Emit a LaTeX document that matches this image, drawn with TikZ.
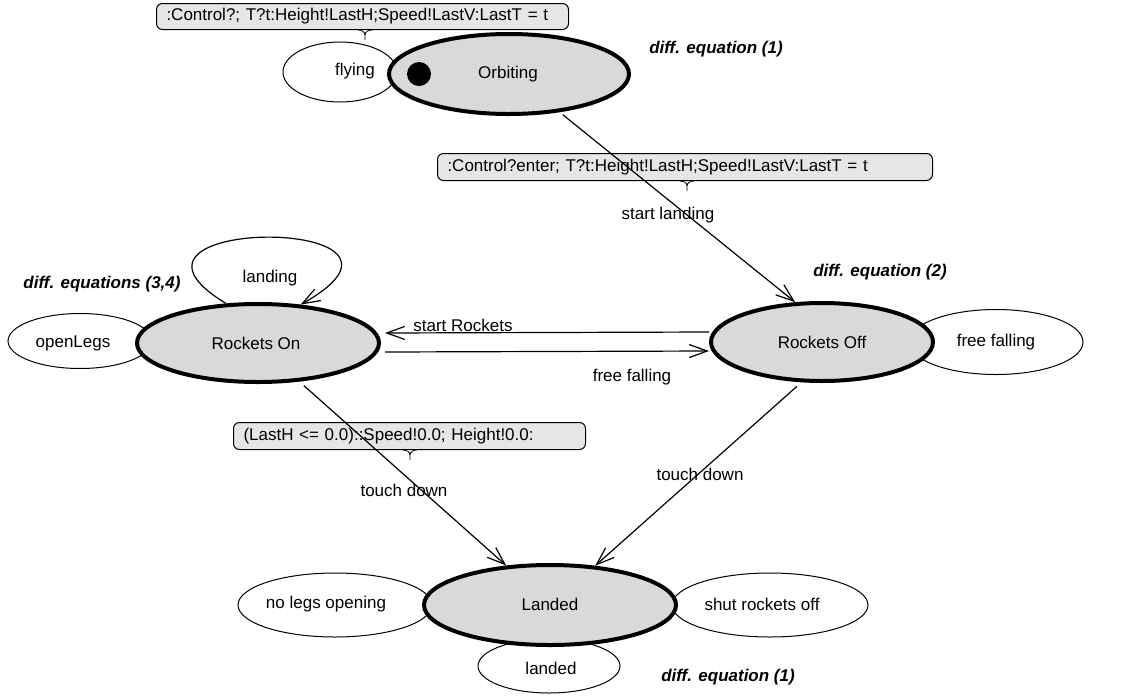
\documentclass[tikz,border=0pt]{standalone}
\usepackage{fontspec}
\setmainfont{Liberation Sans}
\usetikzlibrary{arrows.meta,shapes.geometric}
\definecolor{stategray}{RGB}{217,217,217}
\definecolor{notegray}{RGB}{230,230,230}
\newcommand\notetail[2]{%
  \draw[line width=0.8pt] ([xshift=#2pt-7pt]#1.south west) .. controls +(4,0) and +(0,-3) .. ++(7,5) -- ++(0,5);
  \draw[line width=0.8pt] ([xshift=#2pt+7pt]#1.south west) .. controls +(-4,0) and +(0,-3) .. ++(-7,5);}
\begin{document}
\begin{tikzpicture}[x=1pt,y=-1pt,
  font=\fontsize{17}{20}\selectfont,
  state/.style={ellipse, draw, line width=4pt, fill=stategray, inner sep=0pt},
  activity/.style={ellipse, draw, line width=1pt, fill=white, inner sep=0pt},
  note/.style={draw, line width=1pt, fill=notegray, rounded corners=6pt, anchor=north west,
    inner xsep=10pt, inner ysep=0pt, align=left},
  trans/.style={draw, line width=1.2pt, -{Straight Barb[length=18pt,width=13pt,line width=1.2pt]}},
  eqlabel/.style={font=\fontsize{17}{20}\selectfont\bfseries\itshape, inner sep=0pt},
  lbl/.style={inner sep=0pt}
]
\useasboundingbox (0,0) rectangle (1141,697);

% side (activity) ellipses
\node[activity, minimum width=114pt, minimum height=60pt] (flying) at (340,72) {};
\node[activity, minimum width=144pt, minimum height=55pt] (openlegs) at (80,341) {};
\node[activity, minimum width=174pt, minimum height=65pt] (freefall) at (996,342) {};
\node[activity, minimum width=194pt, minimum height=64pt] (nolegs) at (335,605) {};
\node[activity, minimum width=196pt, minimum height=64pt] (shut) at (770,605) {};
\node[activity, minimum width=142pt, minimum height=54pt] (landedact) at (549,666) {};

% states
\node[state, minimum width=240pt, minimum height=80pt] (orb) at (509,74) {};
\node[state, minimum width=242pt, minimum height=78pt] (ron) at (258,343) {};
\node[state, minimum width=222pt, minimum height=78pt] (roff) at (822,342) {};
\node[state, minimum width=252pt, minimum height=80pt] (land) at (550,605) {};

% texts
\node[lbl] (tflying) at (355,71) {flying};
\node[lbl] (torb) at (508,74) {Orbiting};
\node[circle, fill=black, minimum size=24pt, inner sep=0pt] (dot) at (419,74) {};
\node[lbl] (topen) at (73,343) {openLegs};
\node[lbl] (tron) at (256,343) {Rockets On};
\node[lbl] (troff) at (822,342) {Rockets Off};
\node[lbl] (tfree) at (996,342) {free falling};
\node[lbl] (tnolegs) at (326,604) {no legs opening};
\node[lbl] (tland) at (550,604) {Landed};
\node[lbl] (tshut) at (762,604) {shut rockets off};
\node[lbl] (tlanded) at (551,668) {landed};

% equations labels
\node[eqlabel] (eq1) at (716,49) {diff. equation (1)};
\node[eqlabel] (eq2) at (880,272) {diff. equation (2)};
\node[eqlabel] (eq34) at (102,284) {diff. equations (3,4)};
\node[eqlabel] (eq1b) at (728,677) {diff. equation (1)};

% notes
\node[note, text width=392pt, minimum height=26pt] (c1) at (156,3)
  {:Control?; T?t:Height!LastH;Speed!LastV:LastT = t};
\node[note, text width=475pt, minimum height=27pt] (c2) at (437,153)
  {:Control?enter; T?t:Height!LastH;Speed!LastV:LastT = t};
\node[note, text width=332pt, minimum height=27pt] (c3) at (233,422)
  {(LastH <= 0.0)::Speed!0.0; Height!0.0:};
\notetail{c1}{209}
\notetail{c2}{250}
\notetail{c3}{177}

% transitions
\draw[trans, shorten <=4pt] (orb.-37) -- (roff.124);
\draw[trans] (ron.129) .. controls (80,215) and (460,215) .. (ron.42);
\draw[trans] ([yshift=10pt]roff.west) -- ([yshift=10pt,xshift=4pt]ron.east);
\draw[trans] ([yshift=-9pt,xshift=4pt]ron.east) -- ([yshift=-9pt]roff.west);
\draw[trans, shorten <=6pt] (ron.-43) -- (land.138);
\draw[trans, shorten <=6pt] (roff.243) -- (land.41);

% transition labels
\node[lbl] (lstartland) at (668,215) {start landing};
\node[lbl] (llanding) at (270,278) {landing};
\node[lbl] (lstartrock) at (463,325) {start Rockets};
\node[lbl] (lfree) at (632,377) {free falling};
\node[lbl] (ltd1) at (404,490) {touch down};
\node[lbl] (ltd2) at (700,474) {touch down};
\end{tikzpicture}
\end{document}
